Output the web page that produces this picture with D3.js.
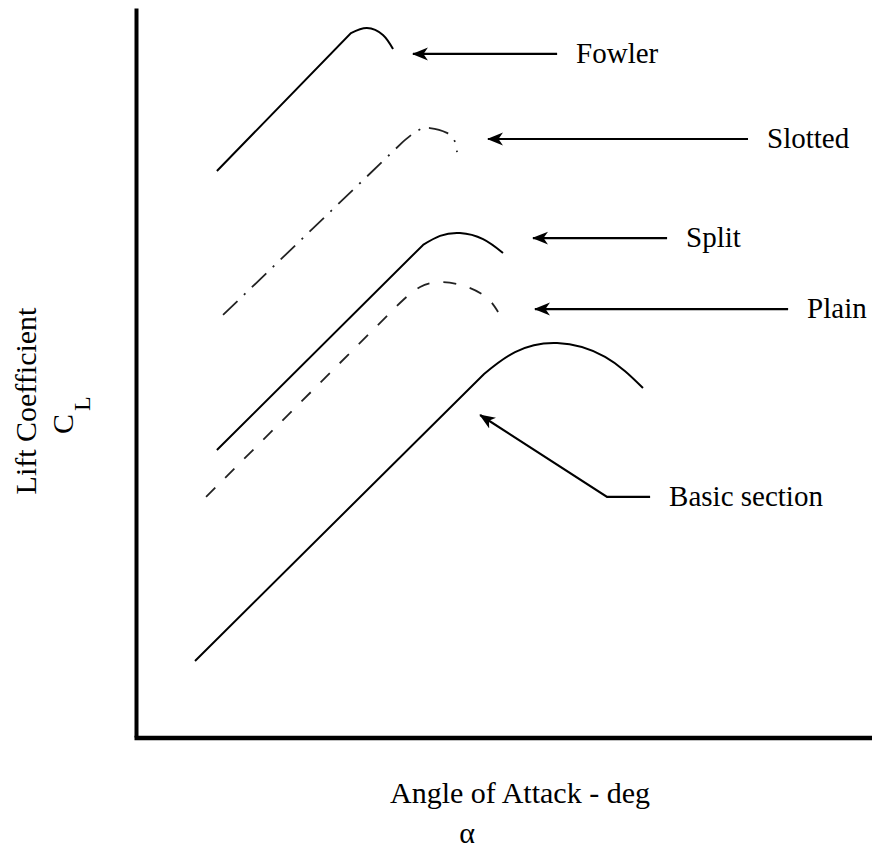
<!DOCTYPE html>
<html>
<head>
<meta charset="utf-8">
<script src="https://cdn.jsdelivr.net/npm/d3@7"></script>
<style>
  body { margin: 0; background: #fff; }
  text { font-family: "Liberation Serif", "Times New Roman", serif; fill: #000; }
</style>
</head>
<body>
<svg id="flap-chart"></svg>
<script>
////////////////////////////////////////////////////////////////////////////////
/////////////////////////////////////////////////////////////// Chart data
////////////////////////////////////////////////////////////////////////////////

// angle of attack (deg) and lift coefficient for each curve
// first two points = straight lift slope, the rest = stall rounding
const fowlerAlpha  = [3.37, 8.82, 9.47, 10.12, 10.53];
const fowlerCL     = [2.329, 2.897, 2.918, 2.889, 2.831];

const slottedAlpha = [3.62, 10.93, 11.50, 12.03, 12.72, 13.05, 13.13];
const slottedCL    = [1.737, 2.449, 2.494, 2.506, 2.486, 2.449, 2.407];

const splitAlpha   = [3.37, 11.75, 12.44, 13.25, 14.19, 15.00];
const splitCL      = [1.181, 2.025, 2.062, 2.074, 2.049, 1.992];

const plainAlpha   = [2.93, 10.81, 11.63, 12.56, 13.54, 14.35, 14.80];
const plainCL      = [0.988, 1.786, 1.852, 1.872, 1.852, 1.807, 1.749];

const basicAlpha   = [2.48, 14.23, 15.49, 17.20, 19.15, 20.69];
const basicCL      = [0.313, 1.494, 1.584, 1.621, 1.564, 1.436];

// labels and where their arrows sit (alpha, CL)
const labelNames   = ["Fowler", "Slotted", "Split", "Plain", "Basic section"];
const arrowTipAlpha  = [11.34, 14.39, 16.22, 16.30, 14.07];
const arrowTipCL     = [2.811, 2.461, 2.053, 1.761, 1.325];
const arrowTailAlpha = [17.20, 24.96, 21.67, 26.59, 20.98];
const arrowTailCL    = [2.811, 2.461, 2.053, 1.761, 0.988];
const arrowElbowAlpha = [null, null, null, null, 19.23];

////////////////////////////////////////////////////////////////////////////////
/////////////////////////////////////////////////////////////// Drawing
////////////////////////////////////////////////////////////////////////////////

const width = 872;
const height = 850;

const svg = d3.select("#flap-chart")
              .attr("width", width)
              .attr("height", height);

svg.append("rect")
   .attr("width", width)
   .attr("height", height)
   .attr("fill", "#fff");

const xScale = d3.scaleLinear()
                 .domain([0, 30])
                 .range([134, 872]);
const yScale = d3.scaleLinear()
                 .domain([0, 3])
                 .range([737, 8]);

// arrow head
svg.append("defs")
   .append("marker")
     .attr("id", "arrow")
     .attr("markerUnits", "userSpaceOnUse")
     .attr("markerWidth", 16)
     .attr("markerHeight", 14)
     .attr("viewBox", "0 0 16 14")
     .attr("refX", 15)
     .attr("refY", 7)
     .attr("orient", "auto")
   .append("path")
     .attr("d", "M0,0.5 L16,7 L0,13.5 L4.5,7 Z")
     .attr("fill", "#000");

// Axes (plain lines, no ticks)
svg.append("g")
   .attr("transform", `translate(${xScale(0) + 2},0)`)
   .call(d3.axisLeft(yScale).ticks(0).tickSizeOuter(0))
   .select(".domain")
     .attr("stroke", "#000")
     .attr("stroke-width", 4);

svg.append("g")
   .attr("transform", `translate(0,${yScale(0) + 0.5})`)
   .call(d3.axisBottom(xScale).ticks(0).tickSizeOuter(0))
   .select(".domain")
     .attr("stroke", "#000")
     .attr("stroke-width", 4.5);

// Curves
const straight = d3.line().x(d => xScale(d[0])).y(d => yScale(d[1]));
const rounded = d3.line().x(d => xScale(d[0])).y(d => yScale(d[1])).curve(d3.curveNatural);

function curvePath(alpha, cl) {
  const pts = alpha.map((a, i) => [a, cl[i]]);
  const head = straight(pts.slice(0, 2));
  const tail = rounded(pts.slice(1)).replace(/^M[^LC]*/, "");
  return head + tail;
}

const curves = [
  {alpha: fowlerAlpha,  cl: fowlerCL,  dash: null,        stroke: "#000", w: 2},
  {alpha: slottedAlpha, cl: slottedCL, dash: "20,9,2,9", stroke: "#222", w: 1.8},
  {alpha: splitAlpha,   cl: splitCL,   dash: null,        stroke: "#000", w: 2},
  {alpha: plainAlpha,   cl: plainCL,   dash: "13,14",     stroke: "#222", w: 1.8},
  {alpha: basicAlpha,   cl: basicCL,   dash: null,        stroke: "#000", w: 2}
];

svg.selectAll(".curve")
   .data(curves)
   .join("path")
     .attr("class", "curve")
     .attr("fill", "none")
     .attr("stroke", d => d.stroke)
     .attr("stroke-width", d => d.w)
     .attr("stroke-dasharray", d => d.dash)
     .attr("d", d => curvePath(d.alpha, d.cl));

// Arrows + labels
labelNames.forEach(function(name, i) {
  const pts = [[arrowTailAlpha[i], arrowTailCL[i]]];
  if (arrowElbowAlpha[i] != null) pts.push([arrowElbowAlpha[i], arrowTailCL[i]]);
  pts.push([arrowTipAlpha[i], arrowTipCL[i]]);

  svg.append("path")
     .attr("d", straight(pts))
     .attr("fill", "none")
     .attr("stroke", "#000")
     .attr("stroke-width", 2.2)
     .attr("marker-end", "url(#arrow)");

  svg.append("text")
     .attr("x", xScale(arrowTailAlpha[i]) + 19)
     .attr("y", yScale(arrowTailCL[i]) + 9)
     .style("font-size", "29px")
     .text(name);
});

// Axis titles
svg.append("text")
   .attr("x", 520)
   .attr("y", 803)
   .style("text-anchor", "middle")
   .style("font-size", "30px")
   .text("Angle of Attack - deg");

svg.append("text")
   .attr("x", 467)
   .attr("y", 843)
   .style("text-anchor", "middle")
   .style("font-size", "30px")
   .text("α");

svg.append("text")
   .attr("transform", "translate(36,401) rotate(-90)")
   .style("text-anchor", "middle")
   .style("font-size", "30px")
   .text("Lift Coefficient");

const cl = svg.append("text")
              .attr("transform", "translate(73,434) rotate(-90)")
              .style("text-anchor", "start")
              .style("font-size", "30px");
cl.append("tspan").text("C");
cl.append("tspan")
  .attr("dx", 3)
  .attr("dy", 17)
  .style("font-size", "24px")
  .text("L");
</script>
</body>
</html>
